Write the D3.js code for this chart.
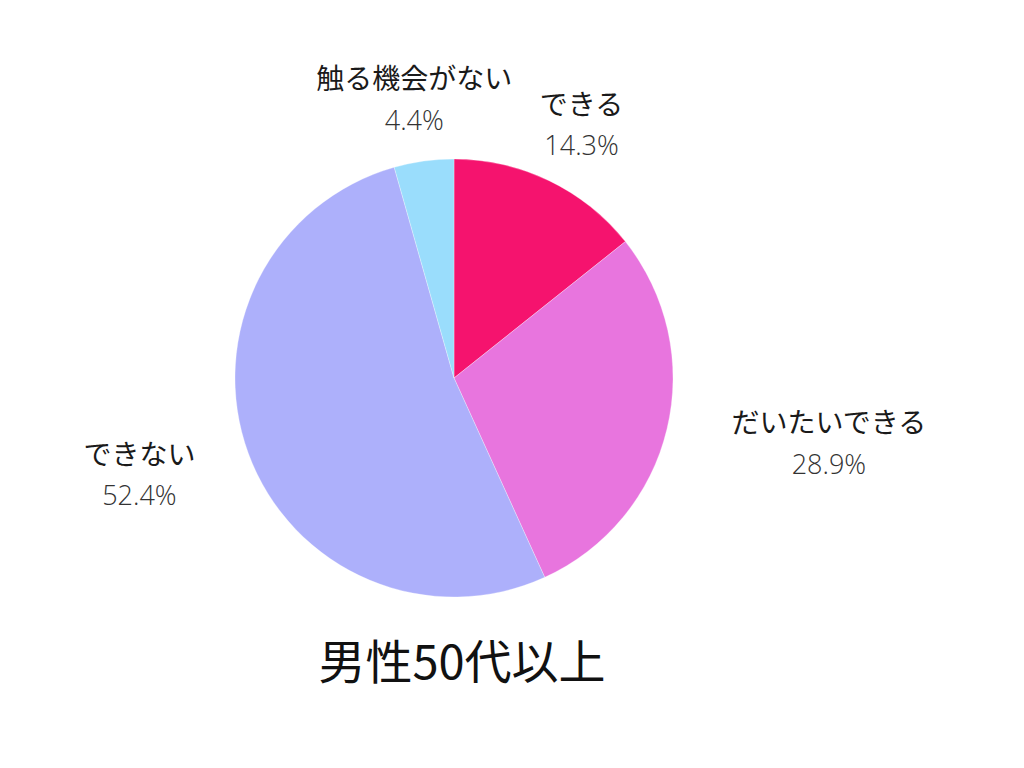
<!DOCTYPE html>
<html><head><meta charset="utf-8">
<script src="https://cdn.jsdelivr.net/npm/d3@7"></script>
<style>body{margin:0;background:#fff;}svg{display:block;}</style>
</head><body>
<svg id="c" width="1024" height="768"></svg>
<script>
const categories = ["できる", "だいたいできる", "できない", "触る機会がない"];
const values = [14.3, 28.9, 52.4, 4.4];
const colors = ["#F5136E", "#E875DE", "#ADB0FB", "#9ADDFC"];
const title = "男性50代以上";

const svg = d3.select("#c");
const cx = 454, cy = 378, r = 219;
const g = svg.append("g").attr("transform", `translate(${cx},${cy})`);
const pie = d3.pie().sort(null).value(d => d)(values);
const arc = d3.arc().innerRadius(0).outerRadius(r);
g.selectAll("path").data(pie).join("path")
  .attr("d", arc).attr("fill", (d, i) => colors[i])
  .attr("stroke", "#fff").attr("stroke-width", 0.3);

const font = "'Noto Sans CJK JP', 'Noto Sans', sans-serif";
const numFont = "'Open Sans', 'Noto Sans', sans-serif";
pie.forEach((d, i) => {
  const a = (d.startAngle + d.endAngle) / 2;
  const s = Math.sin(a), c = Math.cos(a);
  const ax = (r + 35) * s, ay = -(r + 35) * c;
  const lg = g.append("g");
  const t1 = lg.append("text").text(categories[i])
    .attr("text-anchor", "middle").attr("y", -20).attr("dy", "0.35em")
    .attr("font-family", font).attr("font-size", 28).attr("fill", "#1a1a1a");
  const t2 = lg.append("text").text(values[i].toFixed(1) + "%")
    .attr("text-anchor", "middle").attr("y", 21).attr("dy", "0.35em")
    .attr("font-family", numFont).attr("font-weight", 300).attr("font-size", 27).attr("fill", "#333");
  const w = Math.max(t1.node().getComputedTextLength(), t2.node().getComputedTextLength());
  const x = ax + s * 18 + s * Math.abs(s) * 1.2 * w / 2;
  const y = ay - c * 27;
  lg.attr("transform", `translate(${x},${y})`);
});

svg.append("text").text(title)
  .attr("x", 462).attr("y", 663).attr("dy", "0.35em")
  .attr("text-anchor", "middle")
  .attr("font-family", font).attr("font-size", 47).attr("fill", "#111");
</script>
</body></html>
